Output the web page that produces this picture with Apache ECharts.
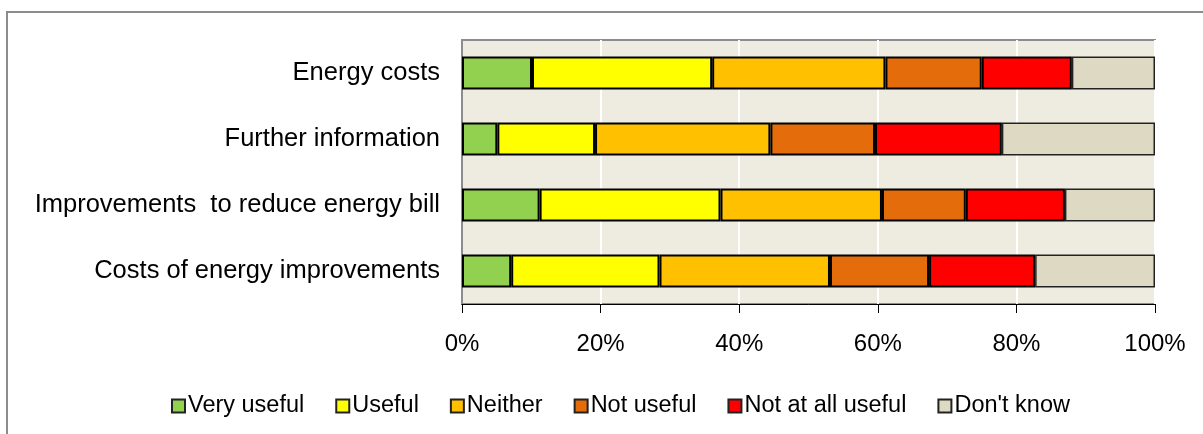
<!DOCTYPE html>
<html>
<head>
<meta charset="utf-8">
<script src="https://cdn.jsdelivr.net/npm/echarts@6/dist/echarts.min.js"></script>
<style>
html,body{margin:0;padding:0;background:#fff;}
#chart{width:1203px;height:434px;}
</style>
</head>
<body>
<div id="chart"></div>
<script>
var categories = ['Energy costs', 'Further information', 'Improvements  to reduce energy bill', 'Costs of energy improvements'];
var seriesNames = ['Very useful', 'Useful', 'Neither', 'Not useful', 'Not at all useful', "Don't know"];
var veryUseful   = [10.1, 5.1, 11.2, 7.1];
var useful       = [26.0, 14.1, 26.1, 21.4];
var neither      = [25.0, 25.3, 23.3, 24.6];
var notUseful    = [13.9, 15.1, 12.1, 14.3];
var notAtAll     = [13.0, 18.3, 14.3, 15.3];
var dontKnow     = [12.0, 22.1, 13.0, 17.3];
var colors = ['#92D050', '#FFFF00', '#FFC000', '#E46C0A', '#FF0000', '#DDD9C3'];
var xTicks = [0, 20, 40, 60, 80, 100];

var allData = [veryUseful, useful, neither, notUseful, notAtAll, dontKnow];
var FONT = '"Liberation Sans", Arial, sans-serif';

var chart = echarts.init(document.getElementById('chart'), null, {renderer: 'canvas'});
var series = seriesNames.map(function (n, i) {
  return {
    name: n,
    type: 'bar',
    stack: 'total',
    barWidth: 33,
    data: allData[i],
    itemStyle: {
      color: colors[i],
      borderColor: i === 5 ? '#222' : '#000',
      borderWidth: i === 5 ? 1.5 : 2
    },
    emphasis: {disabled: true}
  };
});

chart.setOption({
  animation: false,
  backgroundColor: '#fff',
  graphic: [{
    type: 'rect',
    shape: {x: 7, y: 12, width: 1260, height: 500},
    style: {fill: 'none', stroke: '#8c8c8c', lineWidth: 2},
    z: -10
  }],
  grid: {
    left: 462, top: 40, right: 48, bottom: 130,
    show: true,
    backgroundColor: '#EEECE1',
    borderColor: '#8c8c8c',
    borderWidth: 2
  },
  legend: {
    data: seriesNames,
    bottom: 11,
    left: 166,
    icon: 'rect',
    itemWidth: 13,
    itemHeight: 13,
    itemGap: 31,
    itemStyle: {borderColor: '#222', borderWidth: 2},
    textStyle: {fontFamily: FONT, fontSize: 23.5, color: '#000', padding: [0, 0, 0, -2]}
  },
  xAxis: {
    type: 'value',
    min: 0, max: 100, interval: 20,
    axisLine: {show: true, lineStyle: {color: '#000', width: 1}},
    axisTick: {show: true, length: 9, lineStyle: {color: '#000'}},
    splitLine: {show: true, lineStyle: {color: '#fff', width: 2}},
    axisLabel: {
      formatter: function (v) { return v + '%'; },
      fontFamily: FONT, fontSize: 24, color: '#000', margin: 28
    }
  },
  yAxis: {
    type: 'category',
    inverse: true,
    data: categories,
    axisLine: {show: true, lineStyle: {color: '#8c8c8c', width: 2}},
    axisTick: {show: false},
    axisLabel: {fontFamily: FONT, fontSize: 25.5, color: '#000', margin: 22}
  },
  series: series
});
</script>
</body>
</html>
